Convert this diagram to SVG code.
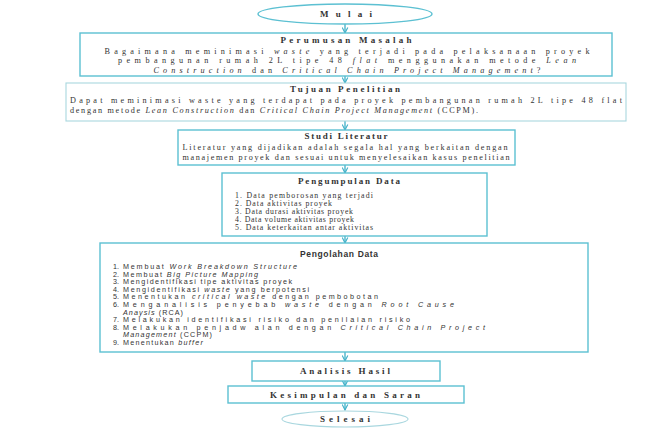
<svg xmlns="http://www.w3.org/2000/svg" width="668" height="428" viewBox="0 0 668 428">
<defs>
<marker id="ah" viewBox="0 0 10 10" refX="9" refY="5" markerWidth="7" markerHeight="7" orient="auto" markerUnits="userSpaceOnUse">
<path d="M1,1 L9,5 L1,9" fill="none" stroke="#3fb0c8" stroke-width="1.6"/>
</marker>
<style>
.box{fill:#fff;stroke:#5cc0d2;stroke-width:1.4}
.faint{fill:#fff;stroke:#a9d7df;stroke-width:1.1}
.ser{font-family:"Liberation Serif","Times New Roman",serif;font-size:8.2px;fill:#333}
.lst{font-family:"Liberation Serif","Times New Roman",serif;font-size:7.8px;fill:#333}
.ttl{font-family:"Liberation Serif","Times New Roman",serif;font-size:9px;font-weight:bold;fill:#333}
.san{font-family:"Liberation Sans",Arial,sans-serif;font-size:7.2px;fill:#333}
.sttl{font-family:"Liberation Sans",Arial,sans-serif;font-size:8.5px;font-weight:bold;fill:#333}
.i{font-style:italic}
.con{stroke:#3fb0c8;stroke-width:1.3;fill:none}
</style>
</defs>
<rect width="668" height="428" fill="#fff"/>

<g id="connectors">
<line class="con" x1="345" y1="24" x2="345" y2="33" marker-end="url(#ah)"/>
<line class="con" x1="345" y1="76" x2="345" y2="83" marker-end="url(#ah)"/>
<line class="con" x1="345" y1="121" x2="345" y2="130" marker-end="url(#ah)"/>
<line class="con" x1="345" y1="165" x2="345" y2="173" marker-end="url(#ah)"/>
<line class="con" x1="345" y1="236" x2="345" y2="243" marker-end="url(#ah)"/>
<line class="con" x1="345" y1="352" x2="345" y2="361" marker-end="url(#ah)"/>
<line class="con" x1="345" y1="381" x2="345" y2="386" marker-end="url(#ah)"/>
<line class="con" x1="345" y1="403" x2="345" y2="410" marker-end="url(#ah)"/>
</g>

<g id="mulai">
<ellipse cx="345" cy="14" rx="87" ry="10" class="box"/>
<text x="346" y="17" class="ttl" text-anchor="middle" textLength="52">Mulai</text>
</g>

<g id="perumusan">
<rect x="80" y="33" width="532" height="43" class="box"/>
<text x="346" y="43" class="ttl" text-anchor="middle" textLength="131">Perumusan Masalah</text>
<text x="347" y="53.5" class="ser" text-anchor="middle" textLength="485">Bagaimana meminimasi <tspan class="i">waste</tspan> yang terjadi pada pelaksanaan proyek</text>
<text x="347" y="63" class="ser" text-anchor="middle" textLength="458">pembangunan rumah 2L tipe 48 <tspan class="i">flat</tspan> menggunakan metode <tspan class="i">Lean</tspan></text>
<text x="347" y="72.5" class="ser" text-anchor="middle" textLength="387"><tspan class="i">Construction</tspan> dan <tspan class="i">Critical Chain Project Management</tspan>?</text>
</g>

<g id="tujuan">
<rect x="66" y="83" width="560" height="38" class="faint"/>
<text x="345" y="92" class="ttl" text-anchor="middle" textLength="110">Tujuan Penelitian</text>
<text x="70" y="103" class="ser" textLength="552">Dapat meminimasi waste yang terdapat pada proyek pembangunan rumah 2L tipe 48 flat</text>
<text x="70" y="113" class="ser" textLength="408">dengan metode <tspan class="i">Lean Construction</tspan> dan <tspan class="i">Critical Chain Project Management</tspan> (CCPM).</text>
</g>

<g id="studi">
<rect x="178" y="130" width="337" height="35" class="box"/>
<text x="346" y="139" class="ttl" text-anchor="middle" textLength="83">Studi Literatur</text>
<text x="345" y="150" class="ser" text-anchor="middle" textLength="325">Literatur yang dijadikan adalah segala hal yang berkaitan dengan</text>
<text x="346" y="159.5" class="ser" text-anchor="middle" textLength="327">manajemen proyek dan sesuai untuk menyelesaikan kasus penelitian</text>
</g>

<g id="pengumpulan">
<rect x="222" y="173" width="265" height="63" class="box"/>
<text x="349" y="184" class="ttl" text-anchor="middle" textLength="102">Pengumpulan Data</text>
<text x="235" y="197.5" class="lst" textLength="138">1. Data pemborosan yang terjadi</text>
<text x="235" y="205.7" class="lst" textLength="97">2. Data aktivitas proyek</text>
<text x="235" y="213.9" class="lst" textLength="118">3. Data durasi aktivitas proyek</text>
<text x="235" y="222.1" class="lst" textLength="119">4. Data volume aktivitas proyek</text>
<text x="235" y="230.3" class="lst" textLength="138">5. Data keterkaitan antar aktivitas</text>
</g>

<g id="pengolahan">
<rect x="100" y="243" width="488" height="109" class="box"/>
<text x="339" y="257" class="sttl" text-anchor="middle" textLength="78">Pengolahan Data</text>
<g class="san">
<text x="113" y="269">1.</text><text x="123" y="269" textLength="174">Membuat <tspan class="i">Work Breakdown Structure</tspan></text>
<text x="113" y="276.6">2.</text><text x="123" y="276.6" textLength="135">Membuat <tspan class="i">Big Picture Mapping</tspan></text>
<text x="113" y="284.2">3.</text><text x="123" y="284.2" textLength="169">Mengidentifikasi tipe aktivitas proyek</text>
<text x="113" y="291.8">4.</text><text x="123" y="291.8" textLength="186">Mengidentifikasi <tspan class="i">waste</tspan> yang berpotensi</text>
<text x="113" y="299.4">5.</text><text x="123" y="299.4" textLength="255">Menentukan <tspan class="i">critical waste</tspan> dengan pembobotan</text>
<text x="113" y="307">6.</text><text x="123" y="307" textLength="331">Menganalisis penyebab <tspan class="i">waste</tspan> dengan <tspan class="i">Root Cause</tspan></text>
<text x="123" y="314.6" textLength="60"><tspan class="i">Anaysis</tspan> (RCA)</text>
<text x="113" y="322.2">7.</text><text x="123" y="322.2" textLength="287">Melakukan identifikasi risiko dan penilaian risiko</text>
<text x="113" y="329.8">8.</text><text x="123" y="329.8" textLength="362">Melakukan penjadw alan dengan <tspan class="i">Critical Chain Project</tspan></text>
<text x="123" y="337.4" textLength="89"><tspan class="i">Management</tspan> (CCPM)</text>
<text x="113" y="345">9.</text><text x="123" y="345" textLength="80">Menentukan <tspan class="i">buffer</tspan></text>
</g>
</g>

<g id="analisis">
<rect x="252" y="361" width="188" height="20" class="box"/>
<text x="345" y="374" class="ttl" text-anchor="middle" textLength="90">Analisis Hasil</text>
</g>

<g id="kesimpulan">
<rect x="228" y="386" width="236" height="17" class="box"/>
<text x="345" y="397.5" class="ttl" text-anchor="middle" textLength="150">Kesimpulan dan Saran</text>
</g>

<g id="selesai">
<ellipse cx="345" cy="419" rx="63" ry="8" class="faint"/>
<text x="345" y="422" class="ttl" text-anchor="middle" textLength="50">Selesai</text>
</g>
</svg>
